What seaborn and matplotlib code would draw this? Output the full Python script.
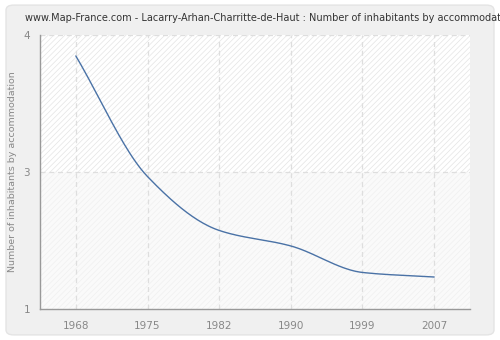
import numpy as np
import pandas as pd
import matplotlib
matplotlib.use("Agg")
import matplotlib.pyplot as plt
from matplotlib.patches import FancyBboxPatch, Rectangle
import seaborn as sns

# Census years and average household size
years = ["1968", "1975", "1982", "1990", "1999", "2007"]
inhabitants = [3.77, 2.45, 1.86, 1.69, 1.40, 1.35]

# Y ticks (positions and their displayed labels)
ytick_pos = [1, 2.5, 4]
ytick_labels = ["1", "3", "4"]

title = "www.Map-France.com - Lacarry-Arhan-Charritte-de-Haut : Number of inhabitants by accommodation"
ylabel = "Number of inhabitants by accommodation"


def monotone_curve(x, y, n=40):
    """Fritsch-Carlson monotone cubic through the points, for a smooth line."""
    x = np.asarray(x, float)
    y = np.asarray(y, float)
    h = np.diff(x)
    d = np.diff(y) / h
    m = np.zeros_like(y)
    m[0], m[-1] = d[0], d[-1]
    for i in range(1, len(y) - 1):
        if d[i - 1] * d[i] <= 0:
            m[i] = 0
        else:
            w1 = 2 * h[i] + h[i - 1]
            w2 = h[i] + 2 * h[i - 1]
            m[i] = (w1 + w2) / (w1 / d[i - 1] + w2 / d[i])
    xs, ys = [], []
    for i in range(len(x) - 1):
        t = np.linspace(0, 1, n, endpoint=(i == len(x) - 2))
        h00 = 2 * t**3 - 3 * t**2 + 1
        h10 = t**3 - 2 * t**2 + t
        h01 = -2 * t**3 + 3 * t**2
        h11 = t**3 - t**2
        xs.append(x[i] + t * h[i])
        ys.append(h00 * y[i] + h10 * h[i] * m[i] + h01 * y[i + 1] + h11 * h[i] * m[i + 1])
    return np.concatenate(xs), np.concatenate(ys)


sns.set_style("white")
plt.rcParams["font.family"] = ["DejaVu Sans"]
plt.rcParams["hatch.linewidth"] = 0.5

fig = plt.figure(figsize=(5, 3.4), dpi=100)
fig.patch.set_facecolor("white")

# Rounded outer panel on a background axes
bg = fig.add_axes([0, 0, 1, 1], zorder=-10)
bg.set_axis_off()
bg.set_xlim(0, 1)
bg.set_ylim(0, 1)
bg.add_patch(FancyBboxPatch((0.012, 0.015), 0.976, 0.97,
                            boxstyle="round,pad=0,rounding_size=0.015",
                            facecolor="#f0f0f0", edgecolor="#e4e4e4", linewidth=1.0))

ax = fig.add_axes([0.08, 0.0912, 0.86, 0.806], zorder=1)
ax.set_facecolor("white")

pos = np.arange(len(years))
ax.set_xlim(-0.5, len(years) - 0.5)
ax.set_ylim(1, 4)

# Hatched plot background: denser above the middle grid line
ax.add_patch(Rectangle((-0.5, 2.5), len(years), 1.5, facecolor="white",
                       edgecolor="#e4e4e4", hatch="//////", linewidth=0, zorder=0))
ax.add_patch(Rectangle((-0.5, 1), len(years), 1.5, facecolor="#fafafa",
                       edgecolor="#f0f0f0", hatch="//////", linewidth=0, zorder=0))

# Grid
for p in pos:
    ax.axvline(p, color="#dedede", linestyle=(0, (4, 3)), linewidth=0.9, zorder=1)
for yv in [2.5, 4]:
    ax.axhline(yv, color="#dedede", linestyle=(0, (4, 3)), linewidth=0.9, zorder=1)

cx, cy = monotone_curve(pos, inhabitants)
curve = pd.DataFrame({"x": cx, "y": cy})
sns.lineplot(data=curve, x="x", y="y", ax=ax, color="#4a72a6", linewidth=1.0,
             sort=False, zorder=3)

ax.set_xticks(pos)
ax.set_xticklabels(years)
ax.set_yticks(ytick_pos)
ax.set_yticklabels(ytick_labels)
ax.set_xlabel("")
ax.set_ylabel(ylabel, color="#888888", fontsize=6.8)
ax.yaxis.set_label_coords(-0.054, 0.5)

for s in ["top", "right"]:
    ax.spines[s].set_visible(False)
for s in ["left", "bottom"]:
    ax.spines[s].set_color("#999999")
    ax.spines[s].set_linewidth(1.0)
ax.tick_params(axis="both", colors="#999999", labelcolor="#888888",
               labelsize=7.5, length=4, width=1.0, direction="out")
ax.tick_params(axis="x", pad=5)
ax.tick_params(axis="y", pad=3)

fig.text(0.05, 0.948, title, fontsize=7.0, color="#333333", ha="left", va="center")

fig.savefig("out.png", dpi=100, facecolor=fig.get_facecolor())
